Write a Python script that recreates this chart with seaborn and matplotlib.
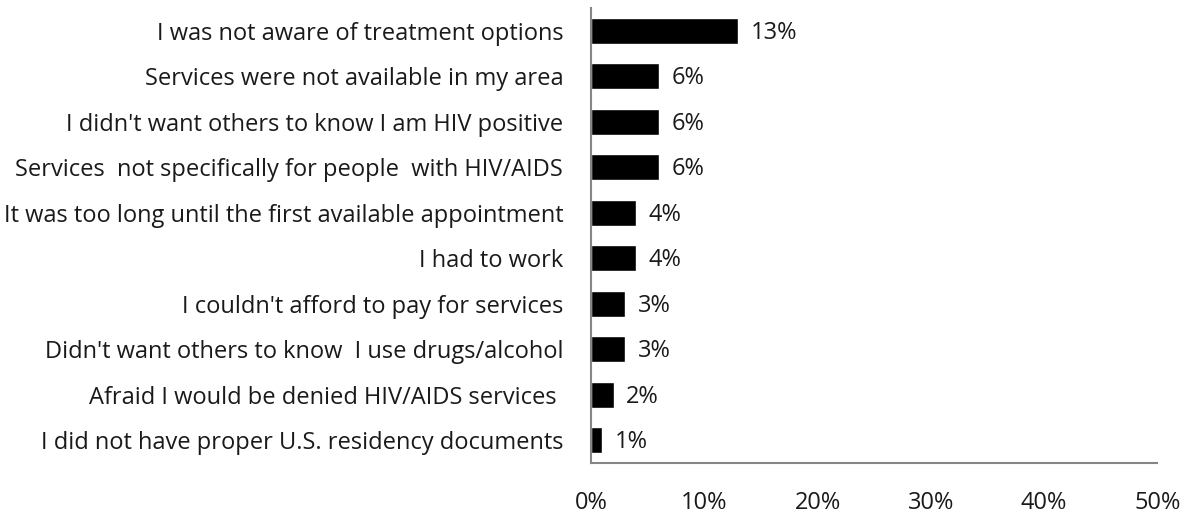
import matplotlib
matplotlib.use('Agg')
import matplotlib.pyplot as plt
import pandas as pd
import seaborn as sns

reasons = [
    "I was not aware of treatment options",
    "Services were not available in my area",
    "I didn't want others to know I am HIV positive",
    "Services  not specifically for people  with HIV/AIDS",
    "It was too long until the first available appointment",
    "I had to work",
    "I couldn't afford to pay for services",
    "Didn't want others to know  I use drugs/alcohol",
    "Afraid I would be denied HIV/AIDS services ",
    "I did not have proper U.S. residency documents",
]
percent = [13, 6, 6, 6, 4, 4, 3, 3, 2, 1]
x_ticks = [0, 10, 20, 30, 40, 50]

df = pd.DataFrame({'reason': reasons, 'percent': percent})

sns.set_style('white')
plt.rcParams['font.family'] = ['Open Sans', 'DejaVu Sans']

fig = plt.figure(figsize=(11.81, 5.23), dpi=100)
ax = fig.add_axes([0.5004, 0.115, 0.4796, 0.870])

sns.barplot(data=df, x='percent', y='reason', orient='h', color='black',
            width=0.57, ax=ax, saturation=1)

for i, v in enumerate(percent):
    ax.annotate(f"{v}%", xy=(v, i), xytext=(9, -1.5), textcoords='offset points',
                va='center', ha='left', fontsize=17, color='#1a1a1a')

ax.set_xlim(0, 50)
ax.set_ylim(9.5, -0.5)
ax.set_xticks(x_ticks)
ax.set_xticklabels([f"{t}%" for t in x_ticks])
ax.set_xlabel('')
ax.set_ylabel('')
ax.tick_params(axis='x', length=0, pad=20, labelsize=17, labelcolor='#1a1a1a')
ax.tick_params(axis='y', length=0, pad=20, labelsize=17, labelcolor='#1a1a1a')

for side in ['top', 'right']:
    ax.spines[side].set_visible(False)
for side in ['left', 'bottom']:
    ax.spines[side].set_color('#868686')
    ax.spines[side].set_linewidth(1.5)

fig.savefig('out.png', dpi=100)
